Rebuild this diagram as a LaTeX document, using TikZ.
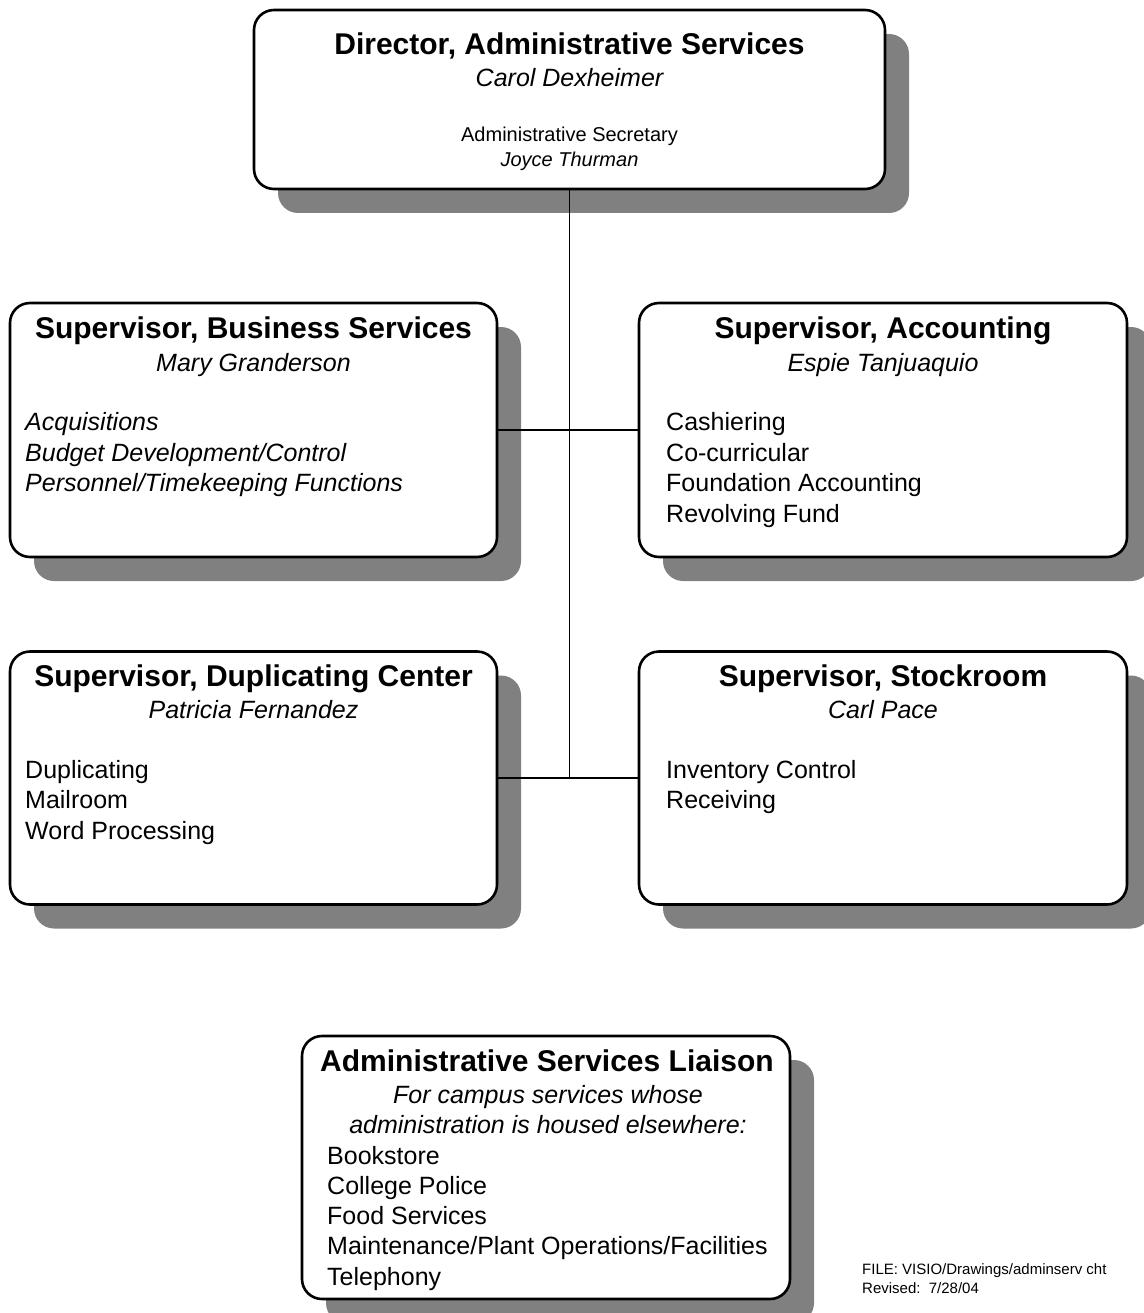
\documentclass[tikz,border=0pt]{standalone}
\usepackage{fontspec}
\setmainfont{Liberation Sans}
\usetikzlibrary{shadows}
\definecolor{shadowgray}{RGB}{128,128,128}
\tikzstyle{unit} = [draw,line width=2.6pt,rounded corners=20pt,fill=white,inner sep=0pt,
  general shadow={fill=shadowgray,shadow xshift=24pt,shadow yshift=-24pt}]
\tikzstyle{head} = [font=\fontsize{30}{36}\selectfont\bfseries,inner sep=0pt,anchor=base]
\tikzstyle{who} = [font=\fontsize{25}{30}\selectfont\itshape,inner sep=0pt,anchor=base]
\tikzstyle{sec} = [font=\fontsize{20}{24}\selectfont,inner sep=0pt,anchor=base]
\tikzstyle{duty} = [font=\fontsize{25}{30}\selectfont,inner sep=0pt,anchor=base west]
\tikzstyle{note} = [font=\fontsize{15}{18}\selectfont,inner sep=0pt,anchor=base west]
\tikzstyle{link} = [line width=1.6pt]

\begin{document}
\begin{tikzpicture}[x=1pt,y=-1pt]
  \useasboundingbox (0,0) rectangle (1143,1313);
  \node[unit,minimum width=631pt,minimum height=179pt] (dir) at (569.5,99.5) {};
  \node[unit,minimum width=487pt,minimum height=254pt] (bus) at (253.5,430) {};
  \node[unit,minimum width=488pt,minimum height=254pt] (acc) at (883,430) {};
  \node[unit,minimum width=487pt,minimum height=253pt] (dup) at (253.5,778) {};
  \node[unit,minimum width=488pt,minimum height=253pt] (stk) at (883,778) {};
  \node[unit,minimum width=488pt,minimum height=263pt] (lia) at (546,1167.5) {};

  \node[head] (dir-t) at (569.5,55) {Director, Administrative Services};
  \node[who] (dir-n) at (569.5,87) {Carol Dexheimer};
  \node[sec] (sec-t) at (569.5,142) {Administrative Secretary};
  \node[sec,font=\fontsize{20}{24}\selectfont\itshape] (sec-n) at (569.5,167) {Joyce Thurman};

  \node[head] (bus-t) at (253.5,338) {Supervisor, Business Services};
  \node[who] (bus-n) at (253.5,371) {Mary Granderson};
  \foreach \t [count=\i from 0] in {Acquisitions,Budget Development/Control,Personnel/Timekeeping Functions}
    \node[duty] (bus-\i) at (25,{430.5+30.7*\i}) {\itshape\t};

  \node[head] (acc-t) at (883,338) {Supervisor, Accounting};
  \node[who] (acc-n) at (883,371) {Espie Tanjuaquio};
  \foreach \t [count=\i from 0] in {Cashiering,Co-curricular,Foundation Accounting,Revolving Fund}
    \node[duty] (acc-\i) at (666,{430.5+30.7*\i}) {\t};

  \node[head] (dup-t) at (253.5,686) {Supervisor, Duplicating Center};
  \node[who] (dup-n) at (253.5,718) {Patricia Fernandez};
  \foreach \t [count=\i from 0] in {Duplicating,Mailroom,Word Processing}
    \node[duty] (dup-\i) at (25,{778+30.7*\i}) {\t};

  \node[head] (stk-t) at (883,686) {Supervisor, Stockroom};
  \node[who] (stk-n) at (883,718) {Carl Pace};
  \foreach \t [count=\i from 0] in {Inventory Control,Receiving}
    \node[duty] (stk-\i) at (666,{778+30.7*\i}) {\t};

  \node[head] (lia-t) at (547,1071) {Administrative Services Liaison};
  \node[who] (lia-n1) at (548,1103) {For campus services whose};
  \node[who] (lia-n2) at (548,1133) {administration is housed elsewhere:};
  \foreach \t [count=\i from 0] in {Bookstore,College Police,Food Services,Maintenance/Plant Operations/Facilities,Telephony}
    \node[duty] (lia-\i) at (327,{1164+30.3*\i}) {\t};

  \node[note] (file) at (862,1274) {FILE: VISIO/Drawings/adminserv cht};
  \node[note] (rev) at (862,1293) {Revised:\ \ 7/28/04};

  \draw[link] (dir.south) -- (dir.south |- dup.east);
  \draw[link] (bus.east) -- (acc.west);
  \draw[link] (dup.east) -- (stk.west);
\end{tikzpicture}
\end{document}
